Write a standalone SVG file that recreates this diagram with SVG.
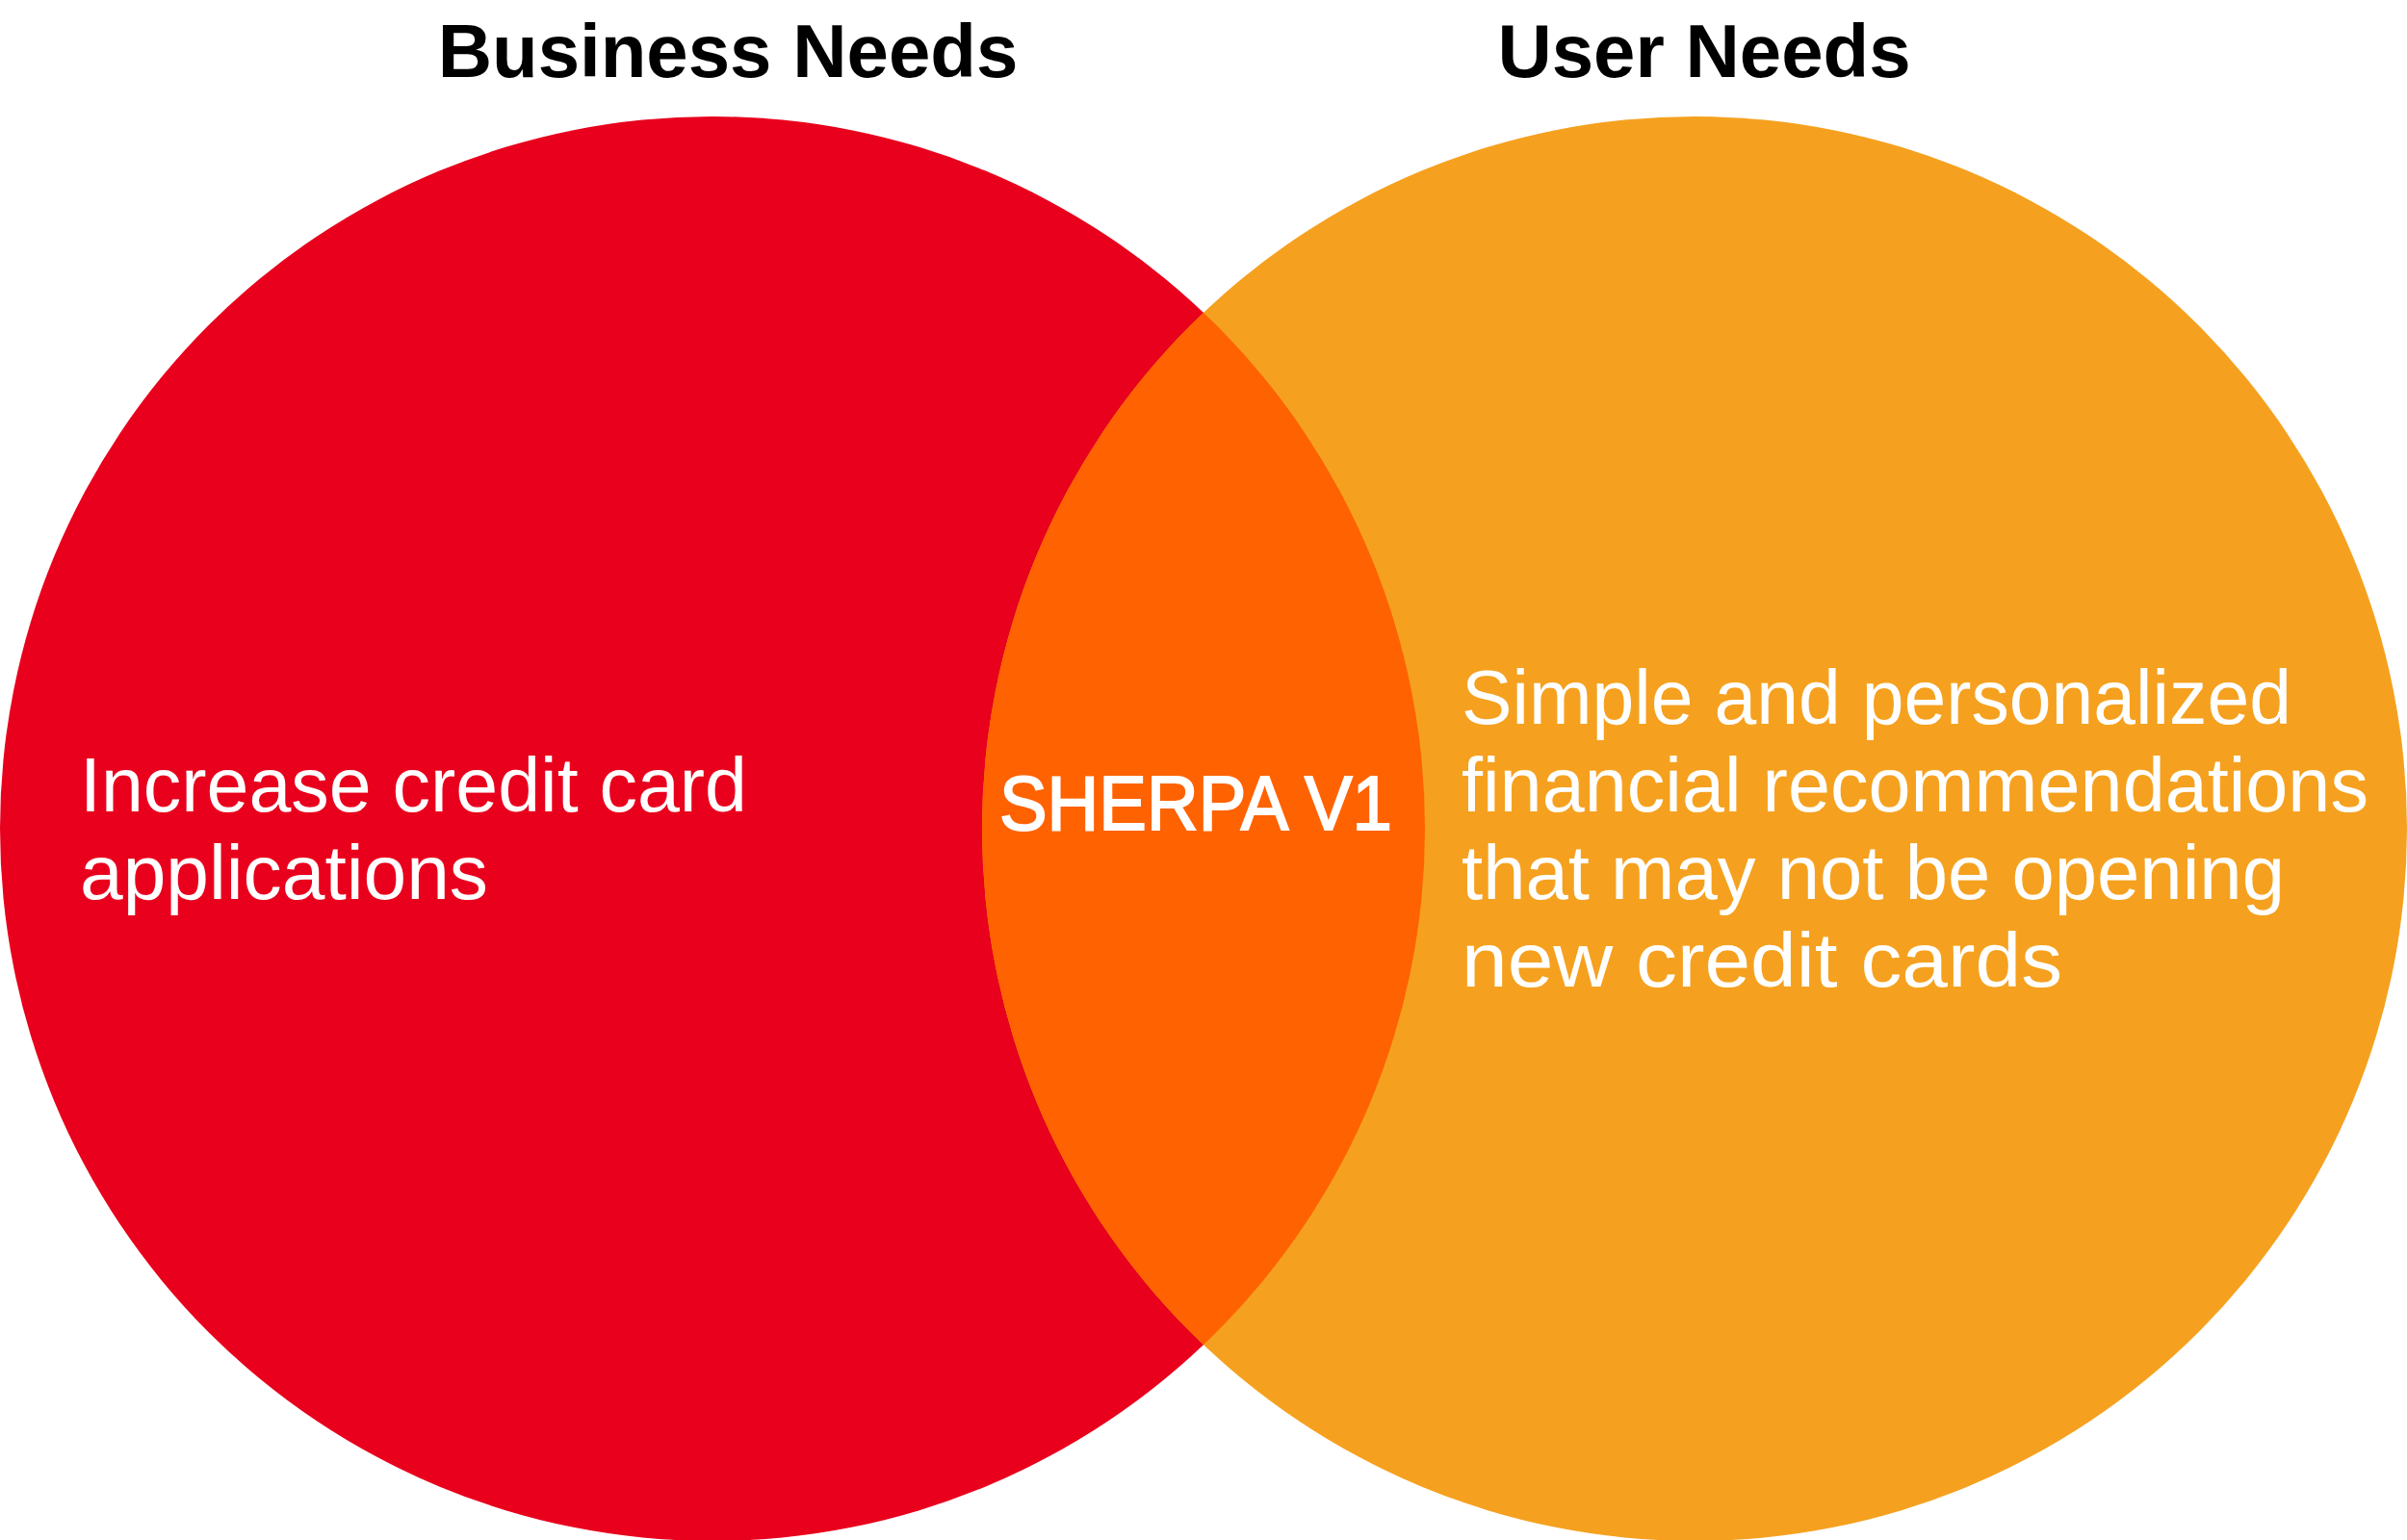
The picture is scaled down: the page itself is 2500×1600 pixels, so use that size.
<svg xmlns="http://www.w3.org/2000/svg" width="2500" height="1600" viewBox="0 0 2500 1600">
  <style>
    .title { font-family: "Liberation Sans", Arial, sans-serif; font-weight: bold; font-size: 78px; fill: #000000; text-anchor: middle; }
    .body { font-family: "Liberation Sans", Arial, sans-serif; font-size: 79px; fill: #ffffff; }
    .center { font-family: "Liberation Sans", Arial, sans-serif; font-size: 79px; fill: #ffffff; stroke: #ffffff; stroke-width: 2; text-anchor: middle; }
  </style>
  <defs>
    <clipPath id="clipLeft">
      <circle cx="740" cy="861" r="740"/>
    </clipPath>
  </defs>
  <rect x="0" y="0" width="2500" height="1600" fill="#ffffff"/>

  <g id="business-needs">
    <circle cx="740" cy="861" r="740" fill="#E8001D"/>
    <text class="title" x="756" y="80">Business Needs</text>
    <text class="body" x="83" y="843" textLength="693" lengthAdjust="spacingAndGlyphs">Increase credit card</text>
    <text class="body" x="83" y="934" textLength="424" lengthAdjust="spacingAndGlyphs">applications</text>
  </g>

  <g id="user-needs">
    <circle cx="1760" cy="861" r="740" fill="#F5A11F"/>
    <text class="title" x="1770" y="80">User Needs</text>
    <text class="body" x="1518" y="752" textLength="862" lengthAdjust="spacingAndGlyphs">Simple and personalized</text>
    <text class="body" x="1518" y="843" textLength="942" lengthAdjust="spacingAndGlyphs">financial recommendations</text>
    <text class="body" x="1518" y="934" textLength="855" lengthAdjust="spacingAndGlyphs">that may not be opening</text>
    <text class="body" x="1518" y="1025" textLength="624" lengthAdjust="spacingAndGlyphs">new credit cards</text>
  </g>

  <g id="sherpa-v1">
    <circle cx="1760" cy="861" r="740" fill="#FF6200" clip-path="url(#clipLeft)"/>
    <text class="center" x="1242" y="862" textLength="408" lengthAdjust="spacingAndGlyphs">SHERPA V1</text>
  </g>

  <g id="connectors"/>
</svg>
